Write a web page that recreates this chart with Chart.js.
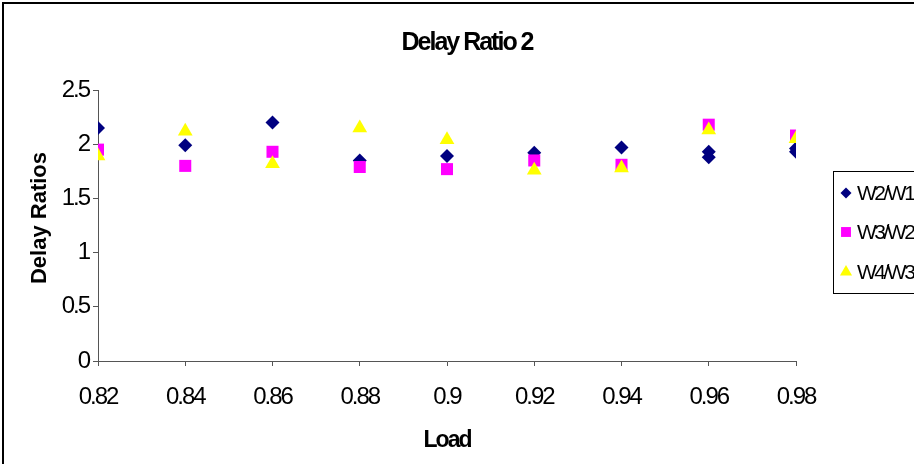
<!DOCTYPE html>
<html>
<head>
<meta charset="utf-8">
<script src="https://cdn.jsdelivr.net/npm/chart.js@4/dist/chart.umd.min.js"></script>
<style>
  html, body { margin: 0; padding: 0; background: #fff; }
</style>
</head>
<body>
<canvas id="chart" width="914" height="464"></canvas>
<script>
// data
const loads = [0.82, 0.84, 0.86, 0.88, 0.9, 0.92, 0.94, 0.96, 0.98];
const w2w1 = [2.15, 1.99, 2.20, 1.85, 1.89, 1.92, 1.97, 1.93, 1.96];
// W2/W1 has a second marker at the last two loads
const w2w1ExtraLoads = [0.96, 0.98];
const w2w1Extra = [1.88, 1.93];
const w3w2 = [1.95, 1.80, 1.93, 1.79, 1.77, 1.85, 1.81, 2.18, 2.08];
const w4w3 = [1.89, 2.12, 1.82, 2.15, 2.04, 1.76, 1.78, 2.13, 2.05];
const yTicks = [0, 0.5, 1, 1.5, 2, 2.5];
const seriesNames = ["W2/W1", "W3/W2", "W4/W3"];
const chartTitle = "Delay Ratio 2";
const yTitle = "Delay Ratios";

const FONT = '"Liberation Sans", Arial, sans-serif';
// the original uses a squeezed Arial, so tighten letters
const SQUEEZE = "-2px";

function toPoints(xs, ys) {
    return xs.map((x, i) => ({ x: x, y: ys[i] }));
}

const markers = [
    { style: "rectRot", color: "#000080", radius: 7 },
    { style: "rect", color: "#FF00FF", radius: 8.5 },
    { style: "triangle", color: "#FFFF00", radius: 8.5 },
];

const squeeze = {
    id: "squeeze",
    beforeLayout(chart) { chart.ctx.letterSpacing = SQUEEZE; },
    beforeDraw(chart) { chart.ctx.letterSpacing = SQUEEZE; },
};

// frame, titles and boxed legend like the original sheet chart
const decor = {
    id: "decor",
    afterDraw(chart) {
        const ctx = chart.ctx;
        ctx.save();
        ctx.strokeStyle = "#000";
        ctx.lineWidth = 2;
        ctx.beginPath();
        ctx.moveTo(3, 464);
        ctx.lineTo(3, 3);
        ctx.lineTo(914, 3);
        ctx.stroke();

        ctx.fillStyle = "#000";
        ctx.textBaseline = "middle";

        ctx.letterSpacing = "-2px";
        ctx.font = "bold 25px " + FONT;
        ctx.textAlign = "center";
        ctx.fillText(chartTitle, 467, 43);

        ctx.save();
        ctx.letterSpacing = "0px";
        ctx.font = "bold 22px " + FONT;
        ctx.translate(40, 218);
        ctx.rotate(-Math.PI / 2);
        ctx.fillText(yTitle, 0, 0);
        ctx.restore();

        ctx.lineWidth = 1;
        ctx.strokeRect(833.5, 171.5, 100, 122);

        ctx.letterSpacing = "-2.5px";
        ctx.font = "21px " + FONT;
        ctx.textAlign = "left";
        const rows = [193, 232, 272];
        seriesNames.forEach((name, i) => {
            const m = markers[i];
            ctx.fillStyle = m.color;
            Chart.helpers.drawPoint(ctx, {
                pointStyle: m.style,
                radius: m.radius - 1.5,
                rotation: 0,
                borderWidth: 0,
            }, 846, rows[i]);
            ctx.fillStyle = "#000";
            ctx.fillText(name, 857, rows[i] + 1);
        });
        ctx.restore();
    },
};

const ctx = document.getElementById("chart").getContext("2d");
new Chart(ctx, {
    type: "scatter",
    data: {
        datasets: [
            {
                label: seriesNames[0],
                data: toPoints(loads, w2w1).concat(toPoints(w2w1ExtraLoads, w2w1Extra)),
                order: 3,
            },
            {
                label: seriesNames[1],
                data: toPoints(loads, w3w2),
                order: 2,
            },
            {
                label: seriesNames[2],
                data: toPoints(loads, w4w3),
                order: 1,
            },
        ].map((ds, i) => Object.assign(ds, {
            pointStyle: markers[i].style,
            pointRadius: markers[i].radius,
            backgroundColor: markers[i].color,
            borderColor: markers[i].color,
            borderWidth: 0,
            showLine: false,
        })),
    },
    options: {
        responsive: false,
        animation: false,
        layout: { padding: { top: 90, right: 118, bottom: 0, left: 0 } },
        plugins: {
            legend: { display: false },
            title: { display: false },
            tooltip: { enabled: false },
        },
        scales: {
            x: {
                type: "linear",
                min: 0.82,
                max: 0.98,
                afterBuildTicks: (s) => { s.ticks = loads.map((v) => ({ value: v })); },
                afterFit: (s) => { s.height = 103; },
                grid: { drawOnChartArea: false, tickLength: 5, color: "#555" },
                border: { color: "#555" },
                ticks: {
                    color: "#000",
                    font: { family: FONT, size: 24 },
                    padding: 17,
                    maxRotation: 0,
                    autoSkip: false,
                    callback: (v) => String(Number(v.toFixed(2))),
                },
                title: {
                    display: true,
                    text: "Load",
                    color: "#000",
                    font: { family: FONT, size: 23, weight: "bold" },
                    padding: { top: 0, bottom: 10 },
                },
            },
            y: {
                min: 0,
                max: 2.5,
                afterBuildTicks: (s) => { s.ticks = yTicks.map((v) => ({ value: v })); },
                afterFit: (s) => { s.width = 98; },
                grid: { drawOnChartArea: false, tickLength: 5, color: "#555" },
                border: { color: "#555" },
                ticks: {
                    color: "#000",
                    font: { family: FONT, size: 24 },
                    padding: 4,
                    callback: (v) => String(v),
                },
            },
        },
    },
    plugins: [squeeze, decor],
});
</script>
</body>
</html>
